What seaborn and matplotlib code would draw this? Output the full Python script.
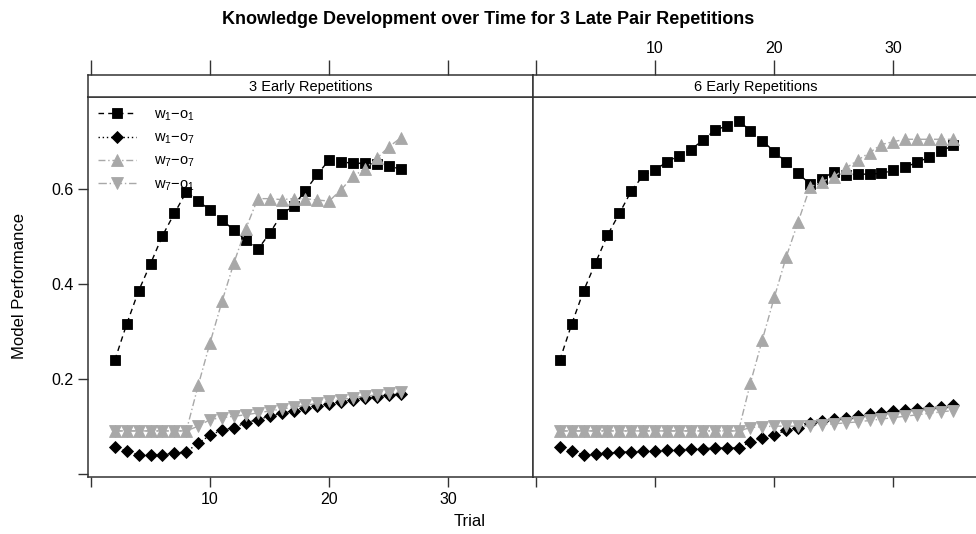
import numpy as np
import pandas as pd
import matplotlib
matplotlib.use("Agg")
import matplotlib.pyplot as plt
from matplotlib.lines import Line2D
import seaborn as sns

sns.set_style("ticks")
plt.rcParams["font.family"] = ["Liberation Sans", "DejaVu Sans"]
plt.rcParams["mathtext.default"] = "regular"
plt.rcParams["text.color"] = "black"
plt.rcParams["xtick.labelcolor"] = "black"
plt.rcParams["ytick.labelcolor"] = "black"

# trials shown in each panel
trials_3 = list(range(2, 27))
trials_6 = list(range(2, 36))

# 3 early repetitions
w1o1_3 = [0.24, 0.316, 0.386, 0.443, 0.502, 0.549, 0.594, 0.575, 0.556, 0.535, 0.514, 0.493,
          0.473, 0.507, 0.547, 0.565, 0.597, 0.631, 0.662, 0.658, 0.654, 0.655, 0.652, 0.649, 0.642]
w1o7_3 = [0.058, 0.048, 0.041, 0.041, 0.041, 0.044, 0.047, 0.065, 0.082, 0.093, 0.098, 0.108,
          0.115, 0.122, 0.128, 0.134, 0.139, 0.144, 0.148, 0.152, 0.156, 0.160, 0.163, 0.166, 0.169]
w7o7_3 = [0.091, 0.091, 0.091, 0.091, 0.091, 0.091, 0.091, 0.187, 0.277, 0.364, 0.445, 0.517,
          0.580, 0.580, 0.578, 0.580, 0.580, 0.577, 0.575, 0.599, 0.627, 0.643, 0.665, 0.689, 0.708]
w7o1_3 = [0.091, 0.091, 0.091, 0.091, 0.091, 0.091, 0.091, 0.101, 0.115, 0.119, 0.122, 0.125,
          0.129, 0.133, 0.137, 0.141, 0.145, 0.149, 0.153, 0.157, 0.161, 0.164, 0.167, 0.170, 0.173]

# 6 early repetitions
w1o1_6 = [0.24, 0.316, 0.386, 0.445, 0.503, 0.549, 0.596, 0.629, 0.640, 0.658, 0.670, 0.683,
          0.703, 0.724, 0.733, 0.744, 0.723, 0.702, 0.679, 0.657, 0.633, 0.611, 0.621, 0.637,
          0.629, 0.631, 0.632, 0.633, 0.640, 0.646, 0.657, 0.667, 0.680, 0.692]
w1o7_6 = [0.058, 0.048, 0.041, 0.043, 0.044, 0.046, 0.047, 0.048, 0.049, 0.050, 0.051, 0.053,
          0.054, 0.055, 0.055, 0.056, 0.067, 0.077, 0.083, 0.092, 0.098, 0.107, 0.112, 0.116,
          0.119, 0.122, 0.126, 0.129, 0.132, 0.135, 0.137, 0.139, 0.141, 0.145]
w7o7_6 = [0.091] * 16 + [0.192, 0.283, 0.372, 0.457, 0.531, 0.604, 0.616, 0.626, 0.644, 0.661,
                         0.677, 0.694, 0.700, 0.705, 0.705, 0.705, 0.705, 0.705]
w7o1_6 = [0.091] * 16 + [0.098, 0.100, 0.101, 0.101, 0.101, 0.102, 0.104, 0.106, 0.108, 0.110,
                         0.113, 0.116, 0.119, 0.122, 0.125, 0.128, 0.131, 0.134]

panels = ["3 Early Repetitions", "6 Early Repetitions"]
labels = [r"$w_1{-}o_1$", r"$w_1{-}o_7$", r"$w_7{-}o_7$", r"$w_7{-}o_1$"]
xticks = [0, 10, 20, 30]

black, gray = "#000000", "#a8a8a8"
styles = [
    dict(color=black, linestyle=(0, (4, 3)), marker="s", markersize=6.5),
    dict(color=black, linestyle=(0, (1, 2)), marker="D", markersize=6.3),
    dict(color=gray, linestyle=(0, (5, 2, 1, 2)), marker="^", markersize=8),
    dict(color=gray, linestyle=(0, (6, 2, 1, 2)), marker="v", markersize=8),
]

W, H = 976, 534
fig = plt.figure(figsize=(W / 100, H / 100), dpi=100)

def fx(px):
    return px / W

def fy(px):
    return 1 - px / H

xlim = (-0.25, 37.1)
ylim = (-0.006, 0.794)
panel_left = [88, 533]
panel_w = 445
top, strip_bot, bottom = 75, 97, 477

data = [
    (trials_3, [w1o1_3, w1o7_3, w7o7_3, w7o1_3]),
    (trials_6, [w1o1_6, w1o7_6, w7o7_6, w7o1_6]),
]

for i, (x0, (trials, series)) in enumerate(zip(panel_left, data)):
    ax = fig.add_axes([fx(x0), fy(bottom), fx(panel_w), (bottom - strip_bot) / H])
    for vals, st in zip(series, styles):
        df = pd.DataFrame({"Trial": trials, "perf": vals})
        sns.lineplot(data=df, x="Trial", y="perf", ax=ax, linewidth=1.0,
                     markeredgewidth=0.6, markeredgecolor=st["color"], **st)
    ax.set_xlim(*xlim)
    ax.set_ylim(*ylim)
    ax.set_xlabel("")
    ax.set_ylabel("")
    ax.set_xticks(xticks)
    if i == 0:
        ax.set_xticklabels(["", "10", "20", "30"], fontsize=11.5)
        ax.set_yticks([0, 0.2, 0.4, 0.6])
        ax.set_yticklabels(["", "0.2", "0.4", "0.6"], fontsize=11.5)
        ax.tick_params(axis="y", direction="out", length=7, width=1, color="#333333")
    else:
        ax.set_xticklabels([])
        ax.set_yticks([])
    ax.tick_params(axis="x", direction="out", length=7, width=1, color="#333333", pad=4)
    for sp in ax.spines.values():
        sp.set_visible(True)
        sp.set_color("#333333")
        sp.set_linewidth(1.1)

    # strip on top of panel, carrying the top axis ticks
    sx = fig.add_axes([fx(x0), fy(strip_bot), fx(panel_w), (strip_bot - top) / H])
    sx.set_xlim(*xlim)
    sx.set_yticks([])
    sx.xaxis.tick_top()
    sx.set_xticks(xticks)
    if i == 0:
        sx.set_xticklabels([])
    else:
        sx.set_xticklabels(["", "10", "20", "30"], fontsize=11.5)
    sx.tick_params(axis="x", direction="out", length=11, width=1, color="#333333", pad=3)
    for sp in sx.spines.values():
        sp.set_color("#333333")
        sp.set_linewidth(1.1)
    sx.text(0.5, 0.45, panels[i], transform=sx.transAxes, ha="center", va="center",
            fontsize=10.5)

    if i == 0:
        handles = [Line2D([], [], linewidth=1.0, markeredgecolor=st["color"],
                          markeredgewidth=0.6, **st) for st in styles]
        ax.legend(handles, labels, loc="upper left", frameon=False, fontsize=10.5,
                  handlelength=2.6, handletextpad=1.2, labelspacing=0.55,
                  borderaxespad=0.3, bbox_to_anchor=(0.0, 1.0))

fig.text(0.5, fy(20), "Knowledge Development over Time for 3 Late Pair Repetitions",
         ha="center", va="center", fontsize=13, fontweight="bold")
fig.text(fx(470), fy(521), "Trial", ha="center", va="center", fontsize=12)
fig.text(fx(20), fy(286), "Model Performance", ha="center", va="center",
         rotation=90, fontsize=12)

fig.savefig("out.png", dpi=100)
